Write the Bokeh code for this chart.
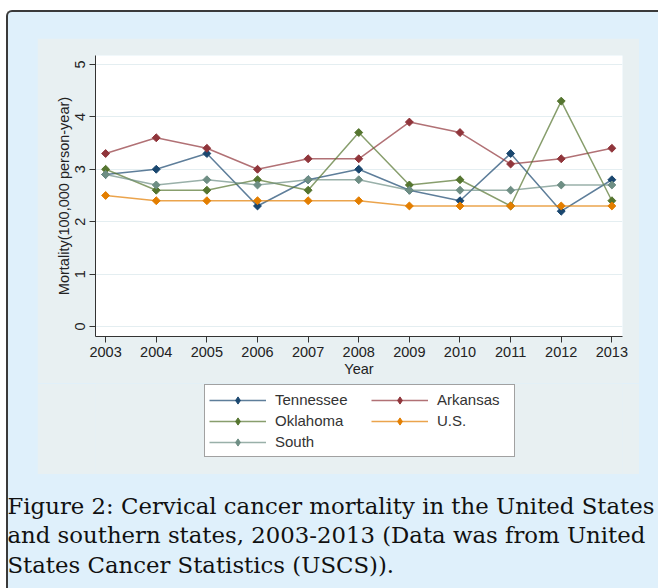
import math
from bokeh.plotting import figure
from bokeh.layouts import column
from bokeh.models import Range1d, FixedTicker, Legend, LegendItem, Title
from bokeh.embed import file_html
from bokeh.resources import INLINE

years = [2003, 2004, 2005, 2006, 2007, 2008, 2009, 2010, 2011, 2012, 2013]
tennessee = [2.9, 3.0, 3.3, 2.3, 2.8, 3.0, 2.6, 2.4, 3.3, 2.2, 2.8]
arkansas = [3.3, 3.6, 3.4, 3.0, 3.2, 3.2, 3.9, 3.7, 3.1, 3.2, 3.4]
oklahoma = [3.0, 2.6, 2.6, 2.8, 2.6, 3.7, 2.7, 2.8, 2.3, 4.3, 2.4]
us = [2.5, 2.4, 2.4, 2.4, 2.4, 2.4, 2.3, 2.3, 2.3, 2.3, 2.3]
south = [2.9, 2.7, 2.8, 2.7, 2.8, 2.8, 2.6, 2.6, 2.6, 2.7, 2.7]
y_ticks = [0, 1, 2, 3, 4, 5]
series_names = ["Tennessee", "Arkansas", "Oklahoma", "U.S.", "South"]
caption_lines = [
    "Figure 2: Cervical cancer mortality in the United States",
    "and southern states, 2003-2013 (Data was from United",
    "States Cancer Statistics (USCS)).",
]

colors = {
    "Tennessee": "#1a476f",
    "Arkansas": "#90353b",
    "Oklahoma": "#55752f",
    "U.S.": "#e37e00",
    "South": "#6e8e84",
}
BLUE = "#dff0fb"
GRAY = "#e8f0f2"
FONT = "Liberation Sans"
FS = "14.5px"
MARK = dict(marker="square", angle=math.pi / 4, size=5.6)

data = {"Tennessee": tennessee, "Arkansas": arkansas, "Oklahoma": oklahoma,
        "U.S.": us, "South": south}

# ---------------- chart (grey panel, upper part) ----------------
p = figure(width=602, height=345, output_backend="svg", toolbar_location=None,
           x_range=Range1d(2002.8, 2013.21), y_range=Range1d(-0.19, 5.17),
           min_border_left=58, min_border_right=17, min_border_top=17,
           min_border_bottom=47, border_fill_color=GRAY,
           background_fill_color="white", outline_line_color=None,
           margin=(26, 19, 0, 29))
p.xgrid.visible = False
p.ygrid.grid_line_color = "#e4eef1"
p.xaxis.ticker = FixedTicker(ticks=years)
p.yaxis.ticker = FixedTicker(ticks=y_ticks)
for ax in (p.xaxis[0], p.yaxis[0]):
    ax.axis_line_color = "#333333"
    ax.major_tick_line_color = "#333333"
    ax.minor_tick_line_color = None
    ax.major_tick_out = 6
    ax.major_tick_in = 0
    ax.major_label_text_font = FONT
    ax.major_label_text_font_size = FS
    ax.major_label_text_color = "#222222"
    ax.axis_label_text_font = FONT
    ax.axis_label_text_font_style = "normal"
    ax.axis_label_text_font_size = FS
    ax.axis_label_text_color = "#222222"
    ax.major_label_standoff = 4
    ax.axis_label_standoff = 1
p.yaxis.major_label_orientation = "vertical"
p.yaxis.axis_label = "Mortality(100,000 person-year)"
p.xaxis.axis_label = "Year"

for name in series_names:
    c = colors[name]
    p.line(years, data[name], line_color=c, line_width=1.5, line_alpha=0.7)
    p.scatter(years, data[name], color=c, **MARK)

# ---------------- legend (grey panel, lower part) ----------------
lf = figure(width=602, height=91, output_backend="svg", toolbar_location=None,
            x_range=Range1d(0, 1), y_range=Range1d(0, 1),
            min_border_left=58, min_border_right=17, min_border_top=0,
            min_border_bottom=0, x_axis_type=None, y_axis_type=None,
            border_fill_color=GRAY, background_fill_color=GRAY,
            outline_line_color=None, margin=(0, 19, 0, 29))
lf.xgrid.visible = False
lf.ygrid.visible = False
items = {}
for name in series_names:
    c = colors[name]
    # legend keys only: placed outside the visible range of this panel
    rl = lf.line(x=[-5, -4], y=[-5, -4], line_color=c, line_width=1.5, line_alpha=0.7)
    rp = lf.scatter(x=[-5], y=[-5], marker="diamond", color=c)
    items[name] = LegendItem(label=name, renderers=[rl, rp])

common = dict(orientation="vertical", padding=4, spacing=0, margin=0,
              glyph_width=57, glyph_height=18, label_height=21, label_standoff=9,
              label_text_font=FONT, label_text_font_size="15px",
              label_text_color="#333333")
leg1 = Legend(items=[items["Tennessee"], items["Oklahoma"], items["South"]],
              location=(109, 17), label_width=235,
              border_line_color="#444444", border_line_width=1,
              background_fill_color="white", background_fill_alpha=1, **common)
leg2 = Legend(items=[items["Arkansas"], items["U.S."]],
              location=(276, 43), label_width=60,
              border_line_color=None, background_fill_alpha=0, **common)
lf.add_layout(leg1)
lf.add_layout(leg2)

# ---------------- caption ----------------
cf = figure(width=650, height=114, output_backend="svg", toolbar_location=None,
            x_range=Range1d(0, 1), y_range=Range1d(0, 1),
            min_border_left=58, min_border_right=17, min_border_top=17,
            min_border_bottom=96, x_axis_type=None, y_axis_type=None,
            border_fill_color=BLUE, background_fill_color=BLUE,
            outline_line_color=None, margin=0)
cf.xgrid.visible = False
cf.ygrid.visible = False
cap = Title(text="\n".join(caption_lines), align="left", offset=-59,
            vertical_align="top", standoff=0,
            text_font="DejaVu Serif", text_font_size="22.8px",
            text_font_style="normal", text_color="#111111", text_line_height=1.15)
cf.add_layout(cap, "below")

outer = column(p, lf, cf, spacing=0,
               styles={"background-color": BLUE,
                       "margin-left": "6px", "margin-top": "10px",
                       "border-top": "2px solid #3a3a3a",
                       "border-left": "2px solid #3a3a3a",
                       "border-right": "0px none", "border-bottom": "0px none",
                       "border-top-left-radius": "6px"})

open("out.html", "w").write(file_html(outer, INLINE))
